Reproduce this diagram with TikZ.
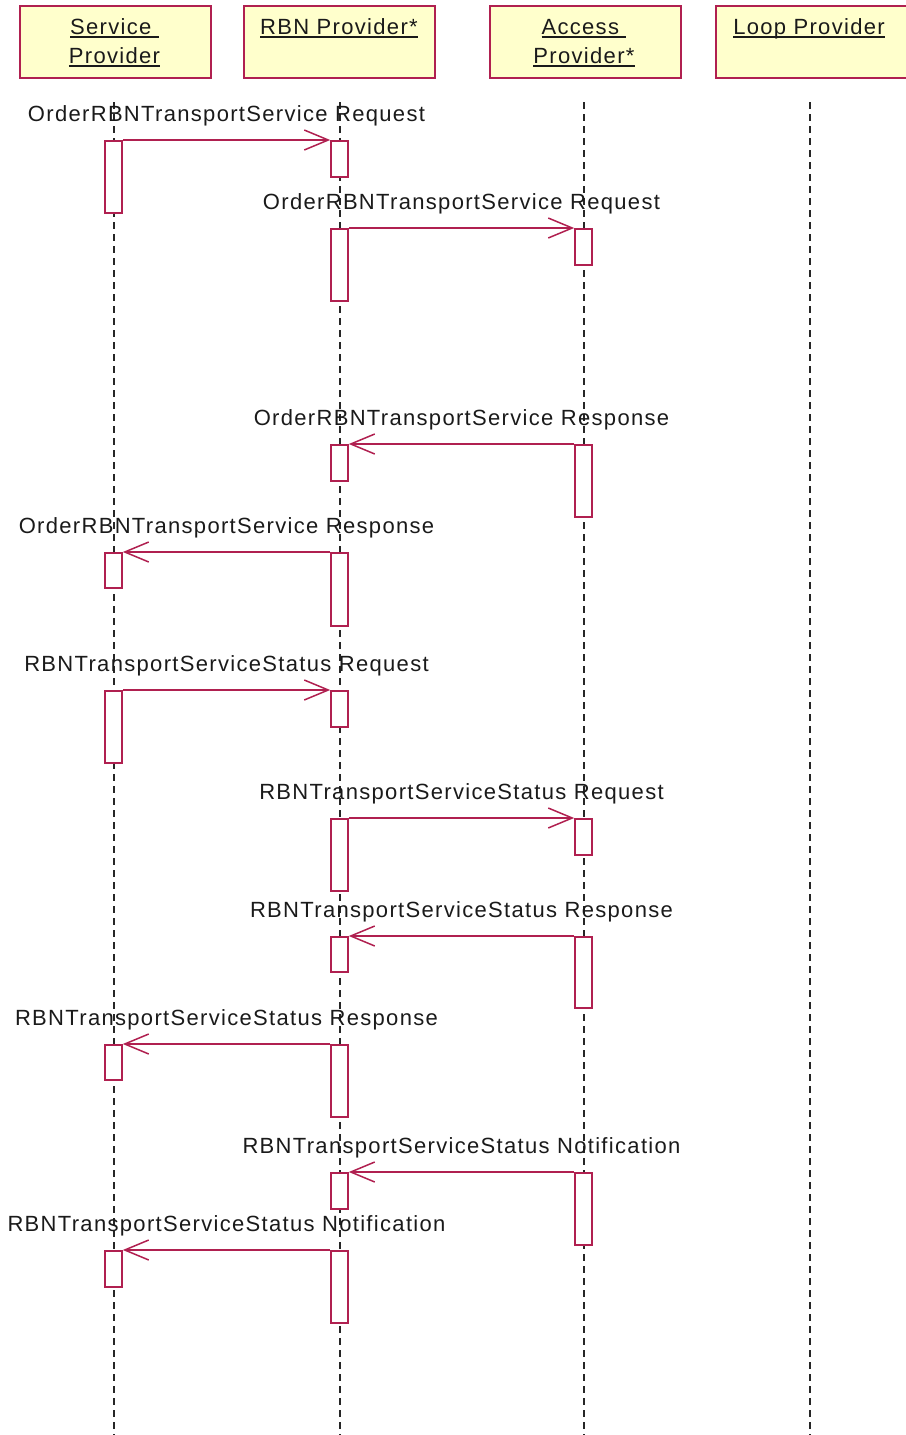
\documentclass[tikz,border=0pt]{standalone}
\usepackage{fontspec}
\setmainfont{Liberation Sans}[LetterSpace=6]
\usetikzlibrary{arrows.meta}
\definecolor{bord}{HTML}{B02050}
\definecolor{headfill}{HTML}{FFFFCC}
\definecolor{txt}{HTML}{1A1A1A}
\newcommand\ulbox[1]{\setbox0=\hbox{#1}\rlap{\rule[-3.5pt]{\wd0}{1.6pt}}\box0}
\begin{document}
\begin{tikzpicture}[x=1pt,y=-1pt,
  head/.style={draw=bord, fill=headfill, line width=2pt, minimum width=191pt, minimum height=72pt, anchor=north west, inner sep=0pt},
  htext/.style={font=\fontsize{22}{26}\selectfont, text=txt, anchor=base, inner sep=0pt},
  act/.style={draw=bord, fill=white, line width=1.6pt, minimum width=17pt, anchor=north, inner sep=0pt},
  life/.style={dash pattern=on 7pt off 5pt, line width=2pt, draw=black!85},
  msg/.style={draw=bord, line width=1.5pt, -{Straight Barb[length=24pt,width=20pt,line width=1.5pt]}},
  lbl/.style={font=\fontsize{22}{26}\selectfont, text=txt, anchor=base, inner sep=0pt}]
\useasboundingbox (0,0) rectangle (905,1435);
% heads
\node[head] (hsp) at (19,5) {};
\node[head] (hrbn) at (243,5) {};
\node[head] (hap) at (489,5) {};
\node[head] (hlp) at (715,5) {};
\node[htext] (tsp1) at (114.5,34) {\ulbox{Service\ }};
\node[htext] (tsp2) at (114.5,63) {\ulbox{Provider}};
\node[htext] (trbn) at (339,34) {\ulbox{RBN Provider*}};
\node[htext] (tap1) at (584,34) {\ulbox{Access\ }};
\node[htext] (tap2) at (584,63) {\ulbox{Provider*}};
\node[htext] (tlp) at (809,34) {\ulbox{Loop Provider}};
% lifelines
\coordinate (lsp) at (113.5,102); \coordinate (lspe) at (113.5,1435);
\coordinate (lrbn) at (339.5,102); \coordinate (lrbne) at (339.5,1435);
\coordinate (lap) at (583.5,102); \coordinate (lape) at (583.5,1435);
\coordinate (llp) at (810,102); \coordinate (llpe) at (810,1435);
\draw[life] (lsp) -- (lspe);
\draw[life] (lrbn) -- (lrbne);
\draw[life] (lap) -- (lape);
\draw[life] (llp) -- (llpe);
% activations
\node[act, minimum height=72pt] (s1) at (113.5,140) {};
\node[act, minimum height=36pt] (r1) at (339.5,140) {};
\node[act, minimum height=72pt] (r2) at (339.5,228) {};
\node[act, minimum height=36pt] (a2) at (583.5,228) {};
\node[act, minimum height=72pt] (a3) at (583.5,444) {};
\node[act, minimum height=36pt] (r3) at (339.5,444) {};
\node[act, minimum height=73pt] (r4) at (339.5,552) {};
\node[act, minimum height=35pt] (s4) at (113.5,552) {};
\node[act, minimum height=72pt] (s5) at (113.5,690) {};
\node[act, minimum height=36pt] (r5) at (339.5,690) {};
\node[act, minimum height=72pt] (r6) at (339.5,818) {};
\node[act, minimum height=36pt] (a6) at (583.5,818) {};
\node[act, minimum height=71pt] (a7) at (583.5,936) {};
\node[act, minimum height=35pt] (r7) at (339.5,936) {};
\node[act, minimum height=72pt] (r8) at (339.5,1044) {};
\node[act, minimum height=35pt] (s8) at (113.5,1044) {};
\node[act, minimum height=72pt] (a9) at (583.5,1172) {};
\node[act, minimum height=36pt] (r9) at (339.5,1172) {};
\node[act, minimum height=72pt] (r10) at (339.5,1250) {};
\node[act, minimum height=36pt] (s10) at (113.5,1250) {};
% messages
\draw[msg] (s1.north east) -- (r1.north west);
\draw[msg] (r2.north east) -- (a2.north west);
\draw[msg] (a3.north west) -- (r3.north east);
\draw[msg] (r4.north west) -- (s4.north east);
\draw[msg] (s5.north east) -- (r5.north west);
\draw[msg] (r6.north east) -- (a6.north west);
\draw[msg] (a7.north west) -- (r7.north east);
\draw[msg] (r8.north west) -- (s8.north east);
\draw[msg] (a9.north west) -- (r9.north east);
\draw[msg] (r10.north west) -- (s10.north east);
% labels
\node[lbl] (m1) at (226.5,121) {OrderRBNTransportService Request};
\node[lbl] (m2) at (461.5,209) {OrderRBNTransportService Request};
\node[lbl] (m3) at (461.5,425) {OrderRBNTransportService Response};
\node[lbl] (m4) at (226.5,533) {OrderRBNTransportService Response};
\node[lbl] (m5) at (226.5,671) {RBNTransportServiceStatus Request};
\node[lbl] (m6) at (461.5,799) {RBNTransportServiceStatus Request};
\node[lbl] (m7) at (461.5,917) {RBNTransportServiceStatus Response};
\node[lbl] (m8) at (226.5,1025) {RBNTransportServiceStatus Response};
\node[lbl] (m9) at (461.5,1153) {RBNTransportServiceStatus Notification};
\node[lbl] (m10) at (226.5,1231) {RBNTransportServiceStatus Notification};
\end{tikzpicture}
\end{document}
